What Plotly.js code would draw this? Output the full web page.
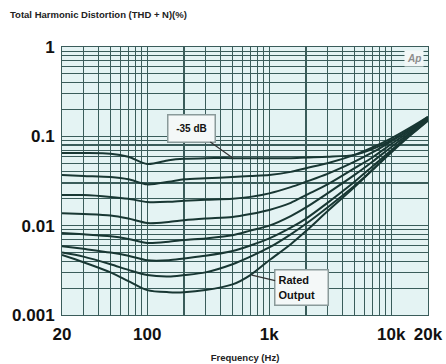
<!DOCTYPE html>
<html>
<head>
<meta charset="utf-8">
<script src="https://cdn.plot.ly/plotly-3.0.1.min.js"></script>
<style>
  html, body { margin: 0; padding: 0; background: #ffffff; }
  #chart { width: 446px; height: 364px; }
</style>
</head>
<body>
<div id="chart"></div>
<script>
// Frequencies (Hz) shared by all curves
const freqs = [20, 30, 50, 70, 100, 150, 200, 300, 500, 700, 1000, 1500, 2000, 3000, 5000, 7000, 10000, 15000, 20000];

// THD+N (%) curves, top (-35 dB) to bottom (Rated Output)
const curveM35dB = [0.065, 0.065, 0.064, 0.059, 0.049, 0.054, 0.056, 0.057, 0.057, 0.057, 0.057, 0.057, 0.058, 0.059, 0.062, 0.072, 0.09, 0.125, 0.165];
const curve2 = [0.037, 0.036, 0.035, 0.033, 0.029, 0.031, 0.033, 0.034, 0.035, 0.036, 0.037, 0.04, 0.044, 0.05, 0.062, 0.075, 0.095, 0.13, 0.165];
const curve3 = [0.022, 0.022, 0.021, 0.020, 0.0184, 0.0185, 0.019, 0.0195, 0.02, 0.021, 0.023, 0.027, 0.031, 0.038, 0.052, 0.066, 0.088, 0.125, 0.16];
const curve4 = [0.0138, 0.0135, 0.013, 0.012, 0.0107, 0.011, 0.0115, 0.012, 0.0125, 0.0135, 0.015, 0.018, 0.022, 0.029, 0.044, 0.058, 0.082, 0.12, 0.158];
const curve5 = [0.0083, 0.008, 0.0076, 0.0071, 0.0064, 0.0066, 0.0069, 0.0072, 0.0078, 0.0088, 0.01, 0.0128, 0.016, 0.023, 0.037, 0.052, 0.076, 0.115, 0.155];
const curve6 = [0.0059, 0.0055, 0.005, 0.0046, 0.0041, 0.0041, 0.0043, 0.0046, 0.0052, 0.006, 0.0072, 0.0095, 0.012, 0.018, 0.031, 0.046, 0.07, 0.11, 0.152];
const curve7 = [0.005, 0.0045, 0.0037, 0.0032, 0.0028, 0.0027, 0.0028, 0.003, 0.0037, 0.0045, 0.0057, 0.008, 0.0105, 0.016, 0.028, 0.042, 0.066, 0.108, 0.15];
const curveRated = [0.0047, 0.0039, 0.003, 0.0024, 0.0019, 0.0018, 0.0018, 0.0019, 0.0022, 0.0028, 0.0041, 0.0062, 0.0087, 0.0145, 0.027, 0.042, 0.068, 0.113, 0.16];

const curves = [curveM35dB, curve2, curve3, curve4, curve5, curve6, curve7, curveRated];

// Axis ticks / labels
const xTickVals = [20, 100, 1000, 10000, 20000];
const xTickText = ['20', '100', '1k', '10k', '20k'];
const xGridVals = [30, 40, 50, 60, 70, 80, 90, 200, 300, 400, 500, 600, 700, 800, 900,
                   2000, 3000, 4000, 5000, 6000, 7000, 8000, 9000];
const yTickVals = [0.001, 0.01, 0.1, 1];
const yTickText = ['0.001', '0.01', '0.1', '1'];
const yGridVals = [0.002, 0.003, 0.004, 0.005, 0.006, 0.007, 0.008, 0.009,
                   0.02, 0.03, 0.04, 0.05, 0.06, 0.07, 0.08, 0.09,
                   0.2, 0.3, 0.4, 0.5, 0.6, 0.7, 0.8, 0.9];

// Annotation anchor points (data values on the curves)
const label35 = { text: '-35 dB', f: 505, v: 0.057 };
const labelRated = { text: 'Rated<br>Output', f: 720, v: 0.0028 };

const lineColor = '#183733';
const gridColor = '#3a5c5a';
const fontFam = 'Liberation Sans, Arial, sans-serif';

const traces = curves.map(c => ({
  x: freqs, y: c, type: 'scatter', mode: 'lines',
  line: { color: lineColor, width: 2, shape: 'spline', smoothing: 0.8 },
  hoverinfo: 'skip', showlegend: false
}));

const tickFont = { family: fontFam, size: 17, color: '#111' };

const layout = {
  width: 446, height: 364,
  margin: { l: 62, r: 18, t: 47, b: 49 },
  paper_bgcolor: '#ffffff',
  plot_bgcolor: '#e4f3f3',
  showlegend: false,
  title: {
    text: '<b>Total Harmonic Distortion (THD + N)(%)</b>',
    font: { family: fontFam, size: 9.5, color: '#222' },
    xref: 'container', yref: 'container',
    x: 10 / 446, xanchor: 'left',
    y: 1 - 15 / 364, yanchor: 'middle'
  },
  xaxis: {
    type: 'log',
    range: [Math.log10(20), Math.log10(20000)],
    tickmode: 'array', tickvals: xTickVals, ticktext: xTickText.map(t => '<b>' + t + '</b>'),
    tickfont: tickFont, ticks: '', ticklabelstandoff: 4,
    showgrid: true, gridcolor: gridColor, gridwidth: 1.3,
    minor: { tickmode: 'array', tickvals: xGridVals, showgrid: true, gridcolor: gridColor, gridwidth: 1.1, ticks: '' },
    showline: true, linecolor: gridColor, linewidth: 1, mirror: true,
    zeroline: false,
    title: { text: '<b>Frequency (Hz)</b>', font: { family: fontFam, size: 9.5, color: '#222' }, standoff: 10 }
  },
  yaxis: {
    type: 'log',
    range: [-3, 0],
    tickmode: 'array', tickvals: yTickVals, ticktext: yTickText.map(t => '<b>' + t + '</b>'),
    tickfont: tickFont, ticks: '', ticklabelstandoff: 3,
    showgrid: true, gridcolor: gridColor, gridwidth: 1.3,
    minor: { tickmode: 'array', tickvals: yGridVals, showgrid: true, gridcolor: gridColor, gridwidth: 1.1, ticks: '' },
    showline: true, linecolor: gridColor, linewidth: 1, mirror: true,
    zeroline: false
  },
  annotations: [
    {
      x: Math.log10(label35.f), y: Math.log10(label35.v), xref: 'x', yref: 'y',
      text: '<b>' + label35.text + '</b>',
      showarrow: true, arrowhead: 0, arrowwidth: 1.2, arrowcolor: '#333',
      ax: -42, ay: -30,
      width: 40, height: 20,
      font: { family: fontFam, size: 10, color: '#111' },
      bgcolor: '#f4f8f8', bordercolor: '#8a9a9a', borderwidth: 1.5, borderpad: 3
    },
    {
      x: Math.log10(labelRated.f), y: Math.log10(labelRated.v), xref: 'x', yref: 'y',
      text: '<b>' + labelRated.text + '</b>', align: 'left',
      showarrow: true, arrowhead: 0, arrowwidth: 1.2, arrowcolor: '#333',
      ax: 50, ay: 12,
      width: 46, height: 28,
      font: { family: fontFam, size: 11, color: '#111' },
      bgcolor: '#f4f8f8', bordercolor: '#8a9a9a', borderwidth: 1.5, borderpad: 3
    },
    {
      xref: 'paper', yref: 'paper', x: 1, y: 1, xanchor: 'right', yanchor: 'top',
      xshift: -4, yshift: -3,
      text: '<i><b>Ap</b></i>', showarrow: false,
      font: { family: fontFam, size: 10, color: '#8c8c8c' },
      bgcolor: '#f2f7f7', borderpad: 2
    }
  ]
};

Plotly.newPlot('chart', traces, layout, { displayModeBar: false, staticPlot: true });
</script>
</body>
</html>
